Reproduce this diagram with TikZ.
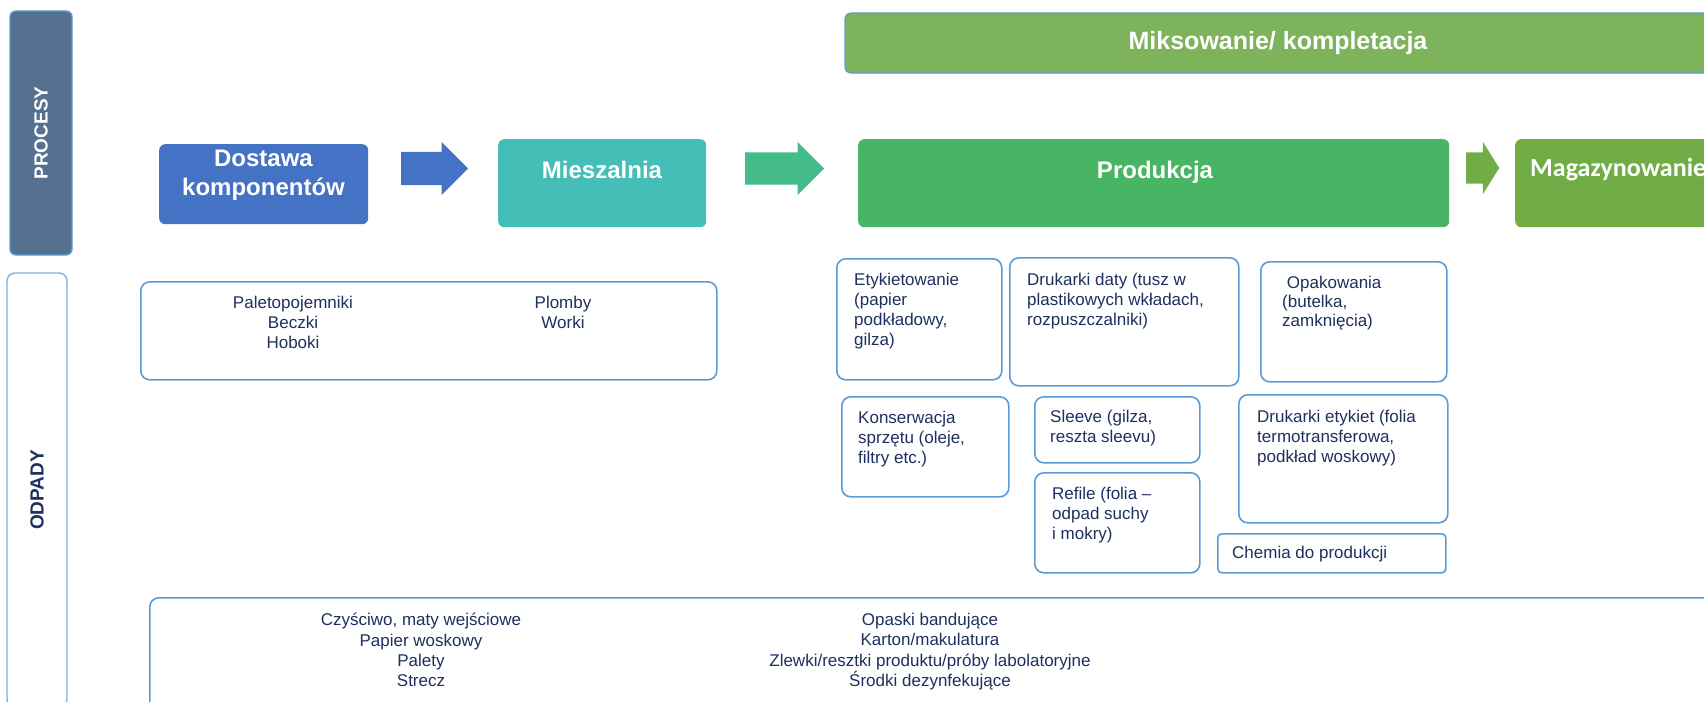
\documentclass[tikz,border=0pt]{standalone}
\usepackage{fontspec}
\setmainfont{Liberation Sans}
\newfontfamily\carlito{Carlito}
\usetikzlibrary{shapes.arrows}

\definecolor{procfill}{HTML}{56708F}
\definecolor{edgeblue}{HTML}{5B9BD5}
\definecolor{navytext}{HTML}{1F2F5F}
\definecolor{dostawablue}{HTML}{4472C4}
\definecolor{mieszteal}{HTML}{45BEB8}
\definecolor{arrowteal}{HTML}{44BB8B}
\definecolor{prodgreen}{HTML}{47B564}
\definecolor{magazgreen}{HTML}{70AD47}
\definecolor{miksgreen}{HTML}{7DB35B}

\tikzset{
  hdrbox/.style={rectangle, rounded corners=6pt, inner sep=0pt, anchor=north west},
  hdrtext/.style={text=white, font=\fontsize{24}{29}\selectfont\bfseries, align=center, inner sep=0pt},
  sidebar/.style={rectangle, rotate=90, line width=1.4pt, font=\fontsize{19}{22}\selectfont\bfseries},
  blockarrow/.style={single arrow, single arrow head extend=10pt, inner xsep=0pt, inner ysep=16.5pt, draw=none, anchor=tail},
  wastebox/.style={rectangle, draw=edgeblue, line width=1.6pt, rounded corners=9pt, fill=white, inner sep=0pt, anchor=north west},
  wastetext/.style={text=navytext, font=\fontsize{17}{20}\selectfont, align=left, inner sep=0pt, anchor=north west}
}

\begin{document}
\begin{tikzpicture}[x=1pt,y=-1pt]
\useasboundingbox (0,0) rectangle (1704,701);

% Side bars
\node[sidebar, rounded corners=6pt, fill=procfill, draw=edgeblue, text=white,
      minimum width=244pt, minimum height=62pt] (procesy) at (41,133) {PROCESY};
\node[sidebar, rounded corners=8pt, fill=white, draw=edgeblue!80, text=navytext,
      minimum width=434pt, minimum height=60pt] (odpady) at (37,490) {ODPADY};

% Processes
\node[hdrbox, hdrtext, anchor=center, fill=miksgreen, draw=edgeblue, line width=1.2pt,
      font=\fontsize{25}{29}\selectfont\bfseries,
      minimum width=866pt, minimum height=60pt] (miks) at (1278,43) {Miksowanie/ kompletacja};

\node[hdrbox, fill=dostawablue, minimum width=209pt, minimum height=80pt] (dostawa) at (159,144) {};
\node[hdrtext, anchor=north] (dostawa-t) at (263.5,149.5) {Dostawa\\komponentów};

\node[hdrbox, fill=mieszteal, minimum width=208pt, minimum height=88pt] (miesz) at (498,139) {};
\node[hdrtext, anchor=base] (miesz-t) at (602,178.5) {Mieszalnia};

\node[hdrbox, fill=prodgreen, minimum width=591pt, minimum height=88pt] (prod) at (858,139) {};
\node[hdrtext, anchor=base] (prod-t) at (1155,178.5) {Produkcja};

\node[hdrbox, fill=magazgreen, minimum width=220pt, minimum height=88pt] (magaz) at (1515,139) {};
\node[hdrtext, anchor=base west, font=\carlito\fontsize{26}{30}\selectfont\bfseries] (magaz-t) at (1530,176) {Magazynowanie};

% Arrows
\node[blockarrow, fill=dostawablue, minimum height=67pt] (arr1) at (401,168.5) {};
\node[blockarrow, fill=arrowteal, minimum height=79pt, inner ysep=16pt, single arrow head extend=10.5pt] (arr2) at (745,168.5) {};
\node[blockarrow, fill=magazgreen, minimum height=33pt, inner ysep=15.5pt, single arrow head extend=10.5pt,
      single arrow tip angle=116] (arr3) at (1466,168) {};

% Waste - delivery
\node[wastebox, minimum width=576pt, minimum height=98pt] (dostawa-w) at (140,281) {};
\node[wastetext, align=center, anchor=north] (dostawa-wa) at (293,296) {Paletopojemniki\\Beczki\\Hoboki};
\node[wastetext, align=center, anchor=north] (dostawa-wb) at (563,296) {Plomby\\Worki};

% Waste - production
\node[wastebox, minimum width=165pt, minimum height=121pt] (ety) at (836,258) {};
\node[wastetext] (ety-t) at (854,273) {Etykietowanie\\(papier\\podkładowy,\\gilza)};

\node[wastebox, minimum width=229pt, minimum height=128pt] (druk) at (1009,257) {};
\node[wastetext] (druk-t) at (1027,273) {Drukarki daty (tusz w\\plastikowych wkładach,\\rozpuszczalniki)};

\node[wastebox, minimum width=186pt, minimum height=120pt] (opak) at (1260,261) {};
\node[wastetext, font=\fontsize{17}{19}\selectfont] (opak-t) at (1282,276) {\ Opakowania\\(butelka,\\zamknięcia)};

\node[wastebox, minimum width=167pt, minimum height=100pt] (kons) at (841,396) {};
\node[wastetext] (kons-t) at (858,411) {Konserwacja\\sprzętu (oleje,\\filtry etc.)};

\node[wastebox, minimum width=165pt, minimum height=66pt] (sleeve) at (1034,396) {};
\node[wastetext] (sleeve-t) at (1050,410) {Sleeve (gilza,\\reszta sleevu)};

\node[wastebox, minimum width=165pt, minimum height=100pt] (refile) at (1034,472) {};
\node[wastetext] (refile-t) at (1052,487) {Refile (folia –\\odpad suchy\\i mokry)};

\node[wastebox, minimum width=209pt, minimum height=128pt] (etyk) at (1238,394) {};
\node[wastetext] (etyk-t) at (1257,410) {Drukarki etykiet (folia\\termotransferowa,\\podkład woskowy)};

\node[wastebox, rounded corners=4pt, minimum width=228pt, minimum height=39pt] (chemia) at (1217,533) {};
\node[wastetext] (chemia-t) at (1232,546) {Chemia do produkcji};

% Waste - general
\node[wastebox, minimum width=1600pt, minimum height=150pt] (ogolne) at (149,597) {};
\node[wastetext, align=center, anchor=north, font=\fontsize{17}{20.3}\selectfont] (ogolne-a) at (421,613)
  {Czyściwo, maty wejściowe\\Papier woskowy\\Palety\\Strecz};
\node[wastetext, align=center, anchor=north, font=\fontsize{17}{20.3}\selectfont] (ogolne-b) at (930,613)
  {Opaski bandujące\\Karton/makulatura\\Zlewki/resztki produktu/próby labolatoryjne\\Środki dezynfekujące};
\end{tikzpicture}
\end{document}
